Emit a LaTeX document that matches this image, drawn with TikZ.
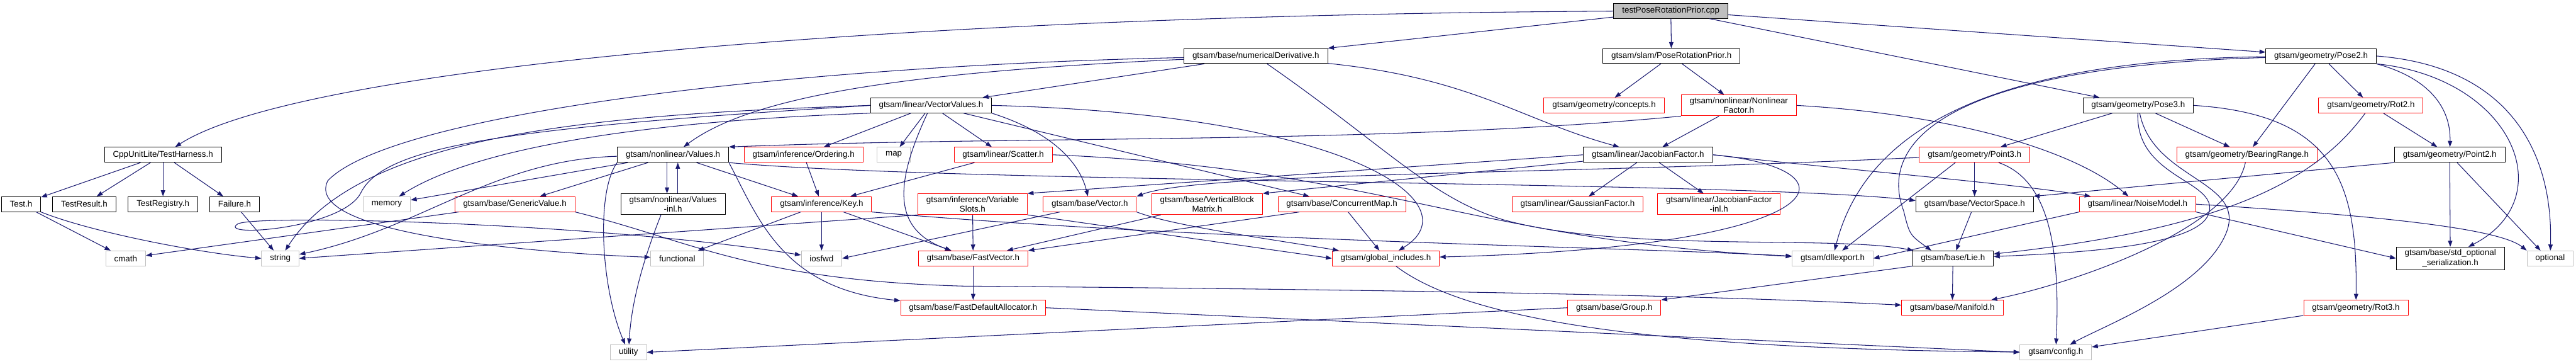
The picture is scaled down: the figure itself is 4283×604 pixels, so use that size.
\documentclass[tikz,border=0pt]{standalone}
\usepackage{fontspec}
\setmainfont{Liberation Sans}
\usetikzlibrary{arrows.meta}
\definecolor{depblue}{HTML}{191970}
\definecolor{sysgray}{HTML}{BFBFBF}
\definecolor{truncred}{HTML}{FF0000}

\begin{document}
\begin{tikzpicture}[x=0.5pt, y=-0.5pt,
    every node/.style={align=center, font=\fontsize{7}{8.2}\selectfont},
    hdr/.style={draw=black, line width=0.5pt, inner xsep=7pt, inner ysep=2pt, minimum height=12.5pt},
    trunc/.style={hdr, draw=truncred},
    sysinc/.style={hdr, draw=sysgray},
    rootfile/.style={hdr, fill=sysgray},
    dep/.style={-{Triangle[length=5pt,width=3.6pt]}, line width=0.55pt, depblue}
]
    \useasboundingbox (0,0) rectangle (4283,604);

    \node[rootfile] (cpp) at (2778,18) {testPoseRotationPrior.cpp};
    \node[hdr] (harness) at (271,257) {CppUnitLite/TestHarness.h};
    \node[hdr] (numderiv) at (2088,93) {gtsam/base/numericalDerivative.h};
    \node[hdr] (rotprior) at (2779,93) {gtsam/slam/PoseRotationPrior.h};
    \node[hdr] (pose2) at (3859,93) {gtsam/geometry/Pose2.h};
    \node[hdr] (vecvalues) at (1548,175) {gtsam/linear/VectorValues.h};
    \node[trunc] (concepts) at (2667,175) {gtsam/geometry/concepts.h};
    \node[trunc] (nlfactor) at (2891,175) {gtsam/nonlinear/Nonlinear\\Factor.h};
    \node[hdr] (pose3) at (3555,175) {gtsam/geometry/Pose3.h};
    \node[trunc] (rot2) at (3942,175) {gtsam/geometry/Rot2.h};
    \node[hdr] (values) at (1119,257) {gtsam/nonlinear/Values.h};
    \node[trunc] (ordering) at (1336,257) {gtsam/inference/Ordering.h};
    \node[sysinc] (map) at (1486,257) {map};
    \node[trunc] (scatter) at (1668,257) {gtsam/linear/Scatter.h};
    \node[hdr] (jacobian) at (2740,257) {gtsam/linear/JacobianFactor.h};
    \node[trunc] (point3) at (3283,257) {gtsam/geometry/Point3.h};
    \node[trunc] (bearing) at (3736,257) {gtsam/geometry/BearingRange.h};
    \node[hdr] (point2) at (4073,257) {gtsam/geometry/Point2.h};
    \node[hdr] (testh) at (35,339) {Test.h};
    \node[hdr] (testresult) at (140,339) {TestResult.h};
    \node[hdr] (testregistry) at (271,339) {TestRegistry.h};
    \node[hdr] (failure) at (390,339) {Failure.h};
    \node[sysinc] (memory) at (643,339) {memory};
    \node[trunc] (genericvalue) at (856,339) {gtsam/base/GenericValue.h};
    \node[hdr] (valuesinl) at (1119,339) {gtsam/nonlinear/Values\\-inl.h};
    \node[trunc] (key) at (1366,339) {gtsam/inference/Key.h};
    \node[trunc] (varslots) at (1617,339) {gtsam/inference/Variable\\Slots.h};
    \node[trunc] (vector) at (1812,339) {gtsam/base/Vector.h};
    \node[trunc] (vblock) at (2007,339) {gtsam/base/VerticalBlock\\Matrix.h};
    \node[trunc] (concmap) at (2231,339) {gtsam/base/ConcurrentMap.h};
    \node[trunc] (gaussian) at (2623,339) {gtsam/linear/GaussianFactor.h};
    \node[trunc] (jacinl) at (2858,339) {gtsam/linear/JacobianFactor\\-inl.h};
    \node[hdr] (vecspace) at (3283,339) {gtsam/base/VectorSpace.h};
    \node[trunc] (noisemodel) at (3554,339) {gtsam/linear/NoiseModel.h};
    \node[sysinc] (cmath) at (209,429) {cmath};
    \node[sysinc] (string) at (466,429) {string};
    \node[sysinc] (functional) at (1126,429) {functional};
    \node[sysinc] (iosfwd) at (1366,429) {iosfwd};
    \node[trunc] (fastvector) at (1618,429) {gtsam/base/FastVector.h};
    \node[trunc] (globalinc) at (2304,429) {gtsam/global\_includes.h};
    \node[sysinc] (dllexport) at (3047,429) {gtsam/dllexport.h};
    \node[hdr] (lie) at (3247,429) {gtsam/base/Lie.h};
    \node[hdr] (stdopt) at (4074,429) {gtsam/base/std\_optional\\\_serialization.h};
    \node[sysinc] (optional) at (4240,429) {optional};
    \node[trunc] (fastalloc) at (1618,511) {gtsam/base/FastDefaultAllocator.h};
    \node[trunc] (group) at (2684,511) {gtsam/base/Group.h};
    \node[trunc] (manifold) at (3246,511) {gtsam/base/Manifold.h};
    \node[trunc] (rot3) at (3917,511) {gtsam/geometry/Rot3.h};
    \node[sysinc] (utility) at (1045,585) {utility};
    \node[sysinc] (config) at (3418,585) {gtsam/config.h};

    \draw[dep] (cpp) .. controls (1500,25) and (500,110) .. (harness);
    \draw[dep] (cpp) -- (numderiv);
    \draw[dep] (cpp) -- (rotprior);
    \draw[dep] (cpp) -- (pose2);
    \draw[dep] (cpp) -- (pose3);

    \draw[dep] (harness) -- (testh);
    \draw[dep] (harness) -- (testresult);
    \draw[dep] (harness) -- (testregistry);
    \draw[dep] (harness) -- (failure);
    \draw[dep] (testh) -- (cmath);
    \draw[dep] (testh.south east) .. controls (150,385) and (330,420) .. (string.west);
    \draw[dep] (failure) -- (string);

    \draw[dep] (numderiv) .. controls (1300,110) and (650,190) .. (545,300) .. controls (500,390) and (900,420) .. (functional);
    \draw[dep] (numderiv) .. controls (1500,120) and (1250,160) .. (values);
    \draw[dep] (numderiv) -- (vecvalues);
    \draw[dep] (numderiv) .. controls (2450,130) and (2530,200) .. (jacobian);
    \draw[dep] (numderiv) .. controls (2300,240) and (2380,330) .. (2500,365) .. controls (2700,420) and (3050,390) .. (lie);

    \draw[dep] (vecvalues.south west) .. controls (1100,200) and (800,240) .. (memory);
    \draw[dep] (vecvalues.west) .. controls (1000,190) and (600,220) .. (string);
    \draw[dep] (vecvalues.west) .. controls (850,212) and (640,240) .. (600,320) .. controls (570,380) and (360,395) .. (395,372) .. controls (420,355) and (1000,370) .. (iosfwd);
    \draw[dep] (vecvalues) -- (ordering);
    \draw[dep] (vecvalues) -- (map);
    \draw[dep] (vecvalues) -- (scatter);
    \draw[dep] (vecvalues) .. controls (1490,300) and (1480,380) .. (fastvector);
    \draw[dep] (vecvalues) -- (concmap);
    \draw[dep] (vecvalues.south east) .. controls (1750,220) and (1795,270) .. (vector);
    \draw[dep] (vecvalues.east) .. controls (2250,190) and (2450,340) .. (globalinc);

    \draw[dep] (values) -- (memory);
    \draw[dep] (values) .. controls (820,265) and (700,380) .. (string);
    \draw[dep] (values) -- (genericvalue);
    \draw[dep] (values.south west) .. controls (990,320) and (1000,480) .. (utility);
    \draw[dep] ([xshift=-5pt]values.south) -- ([xshift=-5pt]valuesinl.north);
    \draw[dep] ([xshift=4pt]valuesinl.north) -- ([xshift=4pt]values.south);
    \draw[dep] (values.south east) .. controls (1260,360) and (1300,480) .. (fastalloc);
    \draw[dep] (values) -- (key);
    \draw[dep] (values.south east) .. controls (1600,305) and (2900,300) .. ([yshift=3pt]vecspace.west);
    \draw[dep] ([xshift=-10pt]valuesinl.south) .. controls (1070,430) and (1050,500) .. (utility);

    \draw[dep] (genericvalue) -- (cmath);
    \draw[dep] (genericvalue.south east) .. controls (1150,400) and (1250,465) .. (1600,475) .. controls (2200,480) and (2800,488) .. (manifold);

    \draw[dep] (key) -- (functional);
    \draw[dep] (key) -- (iosfwd);
    \draw[dep] (key) -- (fastvector);
    \draw[dep] (key.south east) .. controls (2000,400) and (2700,410) .. (dllexport);
    \draw[dep] (ordering) -- (key);
    \draw[dep] (scatter) -- (key);
    \draw[dep] (scatter.east) .. controls (2300,280) and (2450,400) .. (dllexport);

    \draw[dep] (varslots.south west) -- (string.east);
    \draw[dep] (varslots) -- (fastvector);
    \draw[dep] (varslots.south east) -- (globalinc.west);
    \draw[dep] ([xshift=14pt]vector.south west) -- (iosfwd.east);
    \draw[dep] (vector.south east) .. controls (1950,375) and (2100,395) .. (globalinc);
    \draw[dep] (vblock) -- (fastvector);
    \draw[dep] ([xshift=18pt]concmap.south west) -- (fastvector.north east);
    \draw[dep] (concmap) -- (globalinc);

    \draw[dep] (jacobian.west) -- (varslots.north east);
    \draw[dep] (jacobian) -- (vblock.north east);
    \draw[dep] (jacobian) -- (gaussian);
    \draw[dep] (jacobian) -- (jacinl);
    \draw[dep] (jacobian.east) .. controls (3100,280) and (3060,410) .. (globalinc);
    \draw[dep] (jacobian.east) .. controls (3100,285) and (3350,305) .. (noisemodel);

    \draw[dep] (rotprior) -- (concepts);
    \draw[dep] (rotprior) -- (nlfactor);
    \draw[dep] (nlfactor.south west) .. controls (2300,240) and (1700,225) .. (values.north east);
    \draw[dep] (nlfactor) -- (jacobian);
    \draw[dep] (nlfactor.east) .. controls (3250,190) and (3450,250) .. (noisemodel);

    \draw[dep] (pose2) .. controls (3300,100) and (3100,220) .. (dllexport);
    \draw[dep] (pose2) .. controls (3250,110) and (3120,230) .. (3165,350) .. controls (3175,390) .. ([xshift=16pt]lie.north west);
    \draw[dep] (pose2) -- (bearing);
    \draw[dep] (pose2) -- (rot2);
    \draw[dep] (pose2.south east) .. controls (4040,130) and (4075,180) .. (point2);
    \draw[dep] (pose2.south east) .. controls (4180,130) and (4260,330) .. ([xshift=15pt]stdopt.north);
    \draw[dep] (pose2.east) .. controls (4170,110) and (4245,250) .. (optional);

    \draw[dep] (pose3) -- (point3);
    \draw[dep] (pose3) -- (bearing);
    \draw[dep] (pose3.east) .. controls (3880,190) and (3920,300) .. (rot3);
    \draw[dep] (pose3) .. controls (3550,300) and (3700,300) .. (3670,360) .. controls (3640,410) and (3450,420) .. (lie);
    \draw[dep] (pose3) .. controls (3580,300) and (3740,300) .. (3700,390) .. controls (3660,480) and (3500,540) .. (config);

    \draw[dep] (rot2) -- (point2);
    \draw[dep] (rot2) .. controls (3850,300) and (3700,380) .. (lie);

    \draw[dep] (point3) .. controls (2600,290) and (2000,285) .. (vector.north east);
    \draw[dep] ([xshift=-16pt]point3.south) -- ([xshift=8pt]dllexport.north);
    \draw[dep] (point3) -- (vecspace);
    \draw[dep] ([xshift=20pt]point3.south) .. controls (3410,300) and (3425,420) .. (config);

    \draw[dep] (bearing) .. controls (3710,380) and (3450,470) .. (manifold);
    \draw[dep] (point2.south west) -- (vecspace.north east);
    \draw[dep] (point2) -- (stdopt);
    \draw[dep] (point2) -- ([xshift=-8pt]optional.north);
    \draw[dep] (vecspace) -- (lie);

    \draw[dep] (noisemodel.south west) -- (dllexport.east);
    \draw[dep] (noisemodel.south east) -- (stdopt.west);
    \draw[dep] (noisemodel.east) .. controls (3900,355) and (4150,375) .. (optional.north west);

    \draw[dep] (lie) -- (manifold);
    \draw[dep] (lie.south west) -- (group.north east);
    \draw[dep] (group.west) -- (utility.east);
    \draw[dep] (fastvector) -- (fastalloc);
    \draw[dep] (fastalloc.east) -- (config.west);
    \draw[dep] (globalinc) .. controls (2450,540) and (2800,580) .. (config);
    \draw[dep] (rot3) -- (config);
\end{tikzpicture}
\end{document}
